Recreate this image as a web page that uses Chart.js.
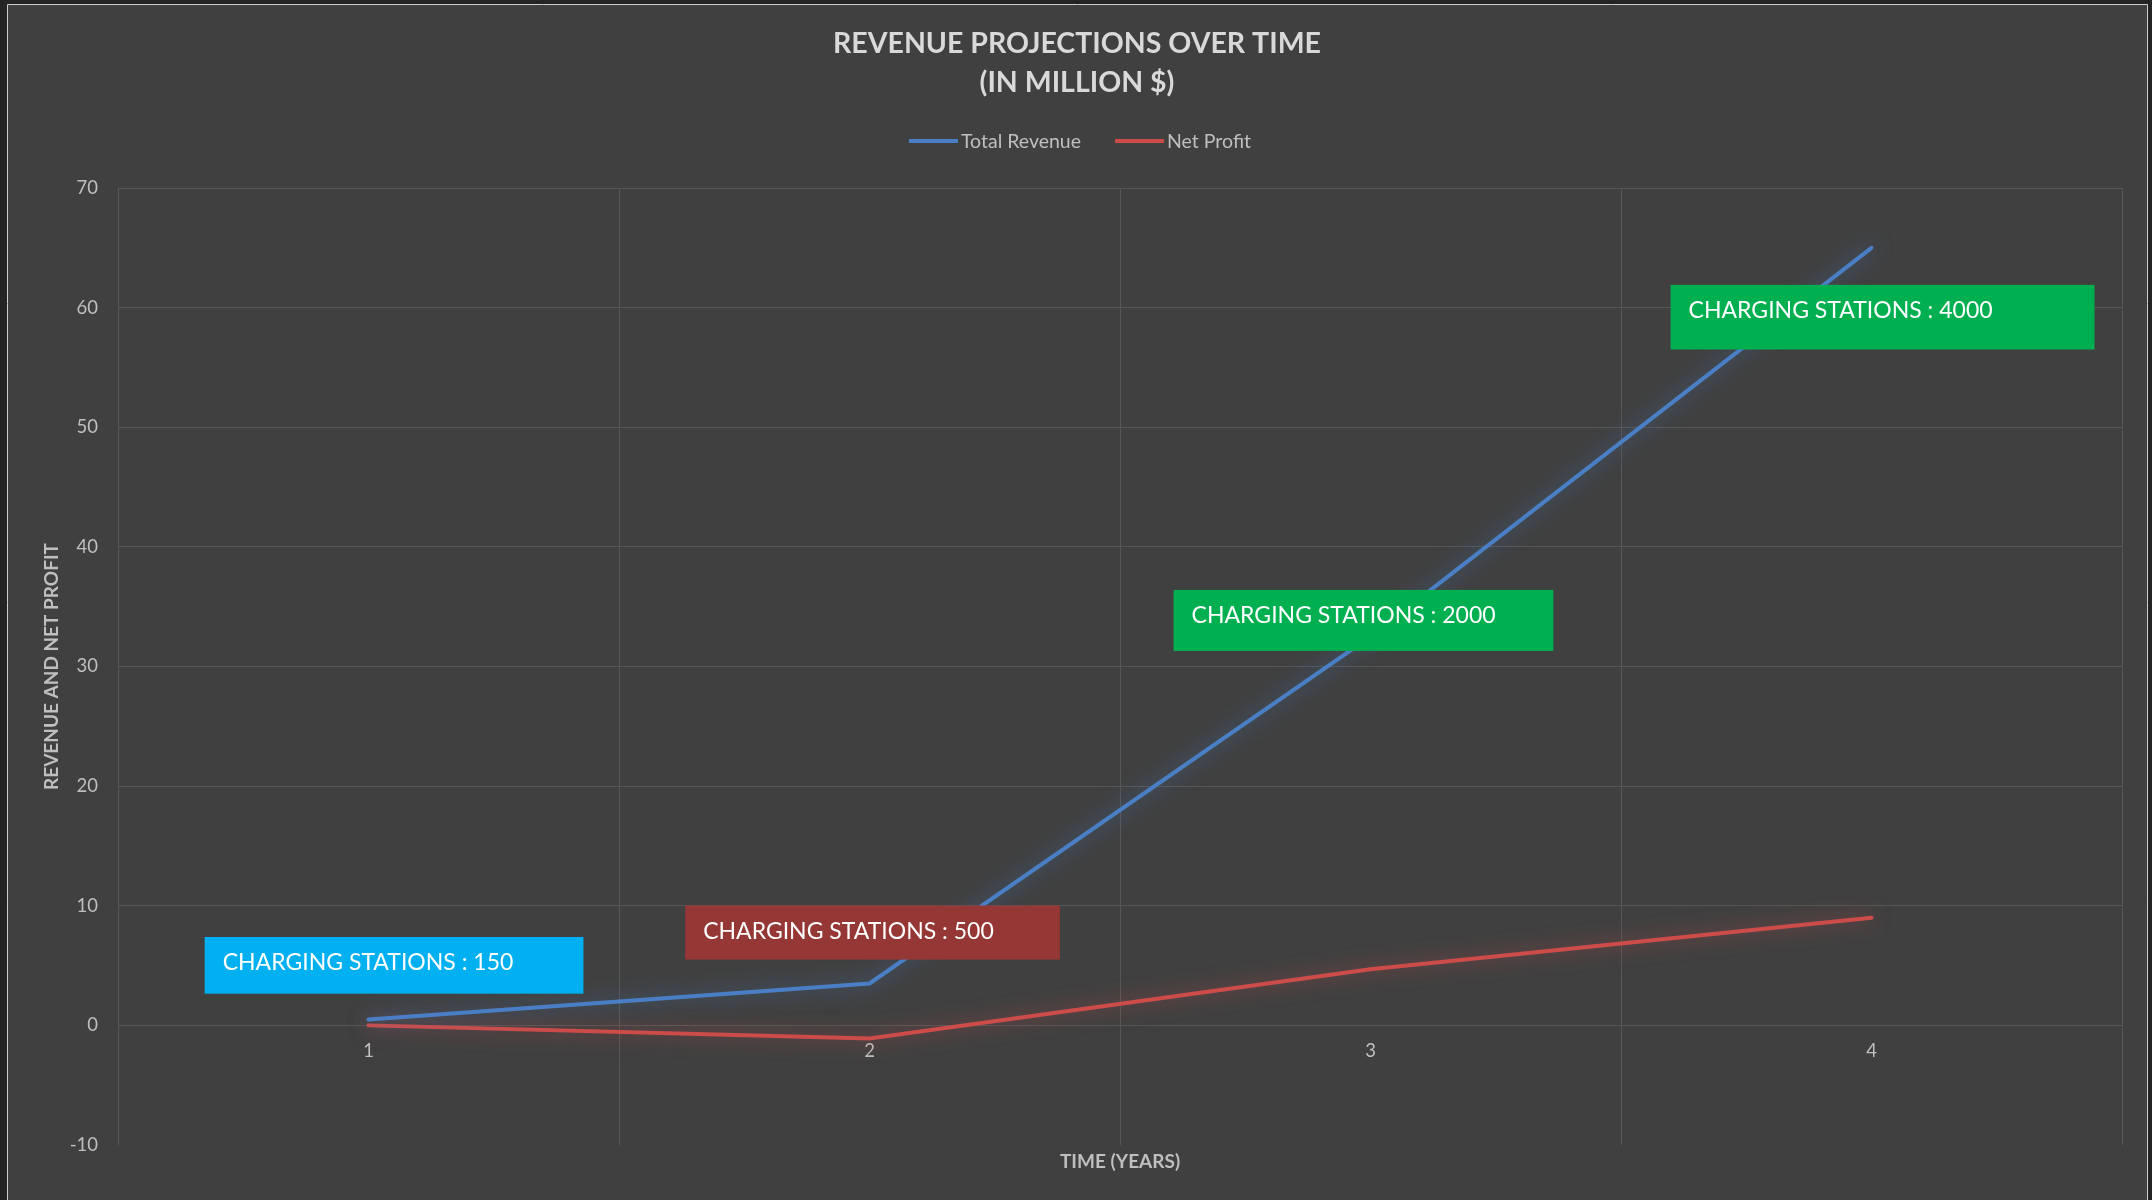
<!DOCTYPE html>
<html><head><meta charset="utf-8">
<script src="https://cdn.jsdelivr.net/npm/chart.js@4/dist/chart.umd.min.js"></script>
<style>html,body{margin:0;padding:0;background:#242424;overflow:hidden}canvas{display:block}</style>
</head><body>
<canvas id="c" width="2152" height="1200"></canvas>
<script>
// ---- data ----
const categories = ['1', '2', '3', '4'];
const totalRevenue = [0.5, 3.5, 32.5, 65];
const netProfit = [0, -1.1, 4.7, 9];
const yTickValues = [-10, 0, 10, 20, 30, 40, 50, 60, 70];
const seriesNames = ['Total Revenue', 'Net Profit'];
const titleLines = ['REVENUE PROJECTIONS OVER TIME', '(IN MILLION $)'];
const xTitle = 'TIME (YEARS)';
const yTitle = 'REVENUE AND NET PROFIT';
const noteTexts = ['CHARGING STATIONS : 150', 'CHARGING STATIONS : 500', 'CHARGING STATIONS : 2000', 'CHARGING STATIONS : 4000'];

// ---- styling / annotation layout ----
const FONT = 'Lato, "Noto Sans", sans-serif';
const seriesColors = ['#4a7fc6', '#cd4c4a'];
const glowColors = ['rgba(74,127,198,0.7)', 'rgba(205,76,74,0.7)'];
const noteColors = ['#00b0f0', '#953735', '#00b050', '#00b050'];
// box extents in data space: [xIndexLeft, xIndexRight, yTop, yBottom]
const noteBoxes = [
  [-0.327, 0.429, 7.39, 2.65],
  [0.632, 1.380, 10.02, 5.5],
  [1.607, 2.365, 36.4, 31.3],
  [2.599, 3.445, 61.9, 56.5]
];
const gridColor = '#575757';
const labelColor = '#bfbfbf';

const framePlugin = {
  id: 'frame',
  beforeDraw(chart) {
    const ctx = chart.ctx, W = chart.width, H = chart.height;
    ctx.save();
    ctx.fillStyle = '#242424';
    ctx.fillRect(0, 0, W, H);
    ctx.fillStyle = '#404040';
    ctx.fillRect(8, 5, 2139, H - 5);
    ctx.strokeStyle = '#cfcfcf';
    ctx.lineWidth = 1;
    ctx.beginPath();
    ctx.moveTo(7.5, H); ctx.lineTo(7.5, 4.5); ctx.lineTo(2147.5, 4.5); ctx.lineTo(2147.5, H);
    ctx.stroke();
    ctx.restore();
  }
};

const glowPlugin = {
  id: 'glow',
  beforeDatasetDraw(chart, args) {
    const ctx = chart.ctx;
    ctx.save();
    ctx.shadowColor = glowColors[args.index];
    ctx.shadowBlur = 20;
  },
  afterDatasetDraw(chart) { chart.ctx.restore(); }
};

const overlayPlugin = {
  id: 'overlay',
  afterDraw(chart) {
    const ctx = chart.ctx, ca = chart.chartArea;
    const xs = chart.scales.x, ys = chart.scales.y;
    ctx.save();
    // title
    ctx.fillStyle = '#d9d9d9';
    ctx.font = 'bold 28.5px ' + FONT;
    ctx.textAlign = 'center';
    ctx.textBaseline = 'alphabetic';
    ctx.fillText(titleLines[0], 1077, 53);
    ctx.fillText(titleLines[1], 1077, 92);
    // legend
    ctx.font = '19.5px ' + FONT;
    ctx.textAlign = 'left';
    const sw = 49, gap = 3, itemGap = 34;
    const w0 = ctx.measureText(seriesNames[0]).width, w1 = ctx.measureText(seriesNames[1]).width;
    const total = sw + gap + w0 + itemGap + sw + gap + w1;
    let lx = 1080 - total / 2;
    const ly = 141;
    [0, 1].forEach(i => {
      ctx.fillStyle = seriesColors[i];
      ctx.fillRect(lx, ly - 2, sw, 4);
      lx += sw + gap;
      ctx.fillStyle = labelColor;
      ctx.fillText(seriesNames[i], lx, ly + 7);
      lx += (i === 0 ? w0 : w1) + itemGap;
    });
    // axis titles
    ctx.font = 'bold 19px ' + FONT;
    ctx.fillStyle = labelColor;
    ctx.textAlign = 'center';
    ctx.fillText(xTitle, (ca.left + ca.right) / 2, 1168);
    ctx.save();
    ctx.translate(58, (ca.top + ca.bottom) / 2);
    ctx.rotate(-Math.PI / 2);
    ctx.fillText(yTitle, 0, 0);
    ctx.restore();
    // annotation boxes
    ctx.font = '23px ' + FONT;
    ctx.textAlign = 'left';
    noteBoxes.forEach((b, i) => {
      const x0 = xs.getPixelForValue(b[0]), x1 = xs.getPixelForValue(b[1]);
      const y0 = ys.getPixelForValue(b[2]), y1 = ys.getPixelForValue(b[3]);
      ctx.fillStyle = noteColors[i];
      ctx.fillRect(x0, y0, x1 - x0, y1 - y0);
      ctx.fillStyle = '#ffffff';
      ctx.fillText(noteTexts[i], x0 + 18, y0 + 33.5);
    });
    ctx.restore();
  }
};

new Chart(document.getElementById('c'), {
  type: 'line',
  data: {
    labels: categories,
    datasets: [
      { label: seriesNames[0], data: totalRevenue, borderColor: seriesColors[0], backgroundColor: seriesColors[0], borderWidth: 4, pointRadius: 0, tension: 0, borderCapStyle: 'round', fill: false },
      { label: seriesNames[1], data: netProfit, borderColor: seriesColors[1], backgroundColor: seriesColors[1], borderWidth: 4, pointRadius: 0, tension: 0, borderCapStyle: 'round', fill: false }
    ]
  },
  options: {
    responsive: false,
    animation: false,
    devicePixelRatio: 1,
    layout: { padding: { top: 188, left: 0, right: 30, bottom: 55 } },
    plugins: { legend: { display: false }, title: { display: false }, tooltip: { enabled: false } },
    scales: {
      x: {
        type: 'category',
        position: { y: 0 },
        offset: true,
        grid: { offset: true, color: gridColor, lineWidth: 1, drawTicks: false },
        border: { display: false },
        ticks: { color: labelColor, font: { family: FONT, size: 18.5 }, padding: 15 }
      },
      y: {
        min: yTickValues[0],
        max: yTickValues[yTickValues.length - 1],
        afterBuildTicks(s) { s.ticks = yTickValues.map(v => ({ value: v })); },
        grid: { color: c => (c.tick && c.tick.value === yTickValues[0]) ? 'rgba(0,0,0,0)' : gridColor, lineWidth: 1, drawTicks: false },
        border: { display: false },
        ticks: { color: labelColor, font: { family: FONT, size: 18.5 }, padding: 20 },
        afterFit(s) { s.width = 118; }
      }
    }
  },
  plugins: [framePlugin, glowPlugin, overlayPlugin]
});
</script>
</body></html>
